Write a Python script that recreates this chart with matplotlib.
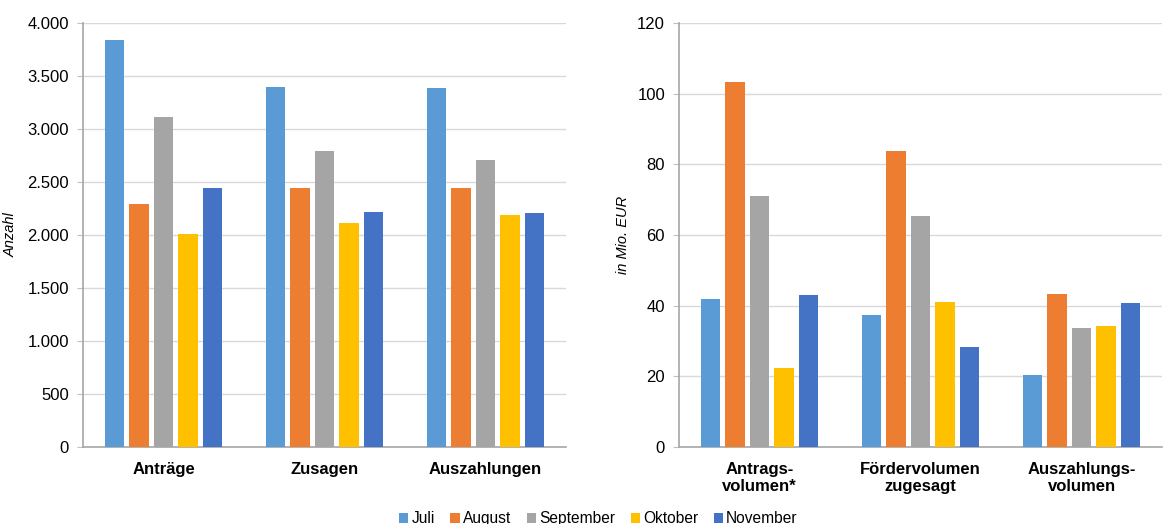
import numpy as np
import matplotlib
matplotlib.use('Agg')
import matplotlib.pyplot as plt
from matplotlib.ticker import FuncFormatter, MultipleLocator

plt.rcParams['font.family'] = ['Liberation Sans', 'DejaVu Sans']

# ── Daten ──
monate = ['Juli', 'August', 'September', 'Oktober', 'November']
farben = ['#5B9BD5', '#ED7D31', '#A5A5A5', '#FFC000', '#4472C4']

kat_anzahl = ['Anträge', 'Zusagen', 'Auszahlungen']
anzahl = {
    'Juli':      [3840, 3400, 3385],
    'August':    [2290, 2440, 2440],
    'September': [3110, 2790, 2710],
    'Oktober':   [2005, 2115, 2185],
    'November':  [2440, 2220, 2210],
}

kat_volumen = ['Antrags-\nvolumen*', 'Fördervolumen\nzugesagt', 'Auszahlungs-\nvolumen']
volumen = {
    'Juli':      [41.8, 37.3, 20.4],
    'August':    [103.2, 83.8, 43.2],
    'September': [71.0, 65.5, 33.8],
    'Oktober':   [22.3, 41.0, 34.3],
    'November':  [43.0, 28.3, 40.8],
}

fig = plt.figure(figsize=(11.64, 5.24), dpi=100)
ax1 = fig.add_axes([0.0713, 0.147, 0.415, 0.809])
ax2 = fig.add_axes([0.5833, 0.147, 0.415, 0.809])

breite = 0.12
schritt = 0.152


def balken(ax, kategorien, werte):
    x = np.arange(len(kategorien))
    for i, m in enumerate(monate):
        off = (i - 2) * schritt
        ax.bar(x + off, werte[m], width=breite, color=farben[i],
               label=m, zorder=3)
    ax.set_xlim(-0.5, len(kategorien) - 0.5)
    ax.set_xticks(x)
    ax.set_xticklabels(kategorien, fontweight='bold', fontsize=12,
                       color='#000000', linespacing=1.15)
    ax.tick_params(axis='x', length=0, pad=11)
    ax.tick_params(axis='y', length=4, color='#bfbfbf', labelsize=12,
                   pad=6)
    ax.grid(axis='y', color='#d9d9d9', lw=1.0, zorder=0)
    for s in ['top', 'right']:
        ax.spines[s].set_visible(False)
    for s in ['left', 'bottom']:
        ax.spines[s].set_color('#a6a6a6')
        ax.spines[s].set_linewidth(1.2)


balken(ax1, kat_anzahl, anzahl)
ax1.set_ylim(0, 4000)
ax1.yaxis.set_major_locator(MultipleLocator(500))
ax1.yaxis.set_major_formatter(
    FuncFormatter(lambda v, p: f'{int(v):,}'.replace(',', '.')))
ax1.set_ylabel('Anzahl', fontstyle='italic', fontsize=10.5, labelpad=7)

balken(ax2, kat_volumen, volumen)
ax2.set_ylim(0, 120)
ax2.yaxis.set_major_locator(MultipleLocator(20))
ax2.set_ylabel('in Mio. EUR', fontstyle='italic', fontsize=10.5, labelpad=5)

h, l = ax1.get_legend_handles_labels()
fig.legend(h, l, loc='center', bbox_to_anchor=(0.514, 0.01), ncol=5,
           frameon=False, fontsize=11.2, handlelength=0.6, handleheight=0.6,
           handletextpad=0.2, columnspacing=1.0)

plt.savefig('out.png', dpi=100)
plt.close()
